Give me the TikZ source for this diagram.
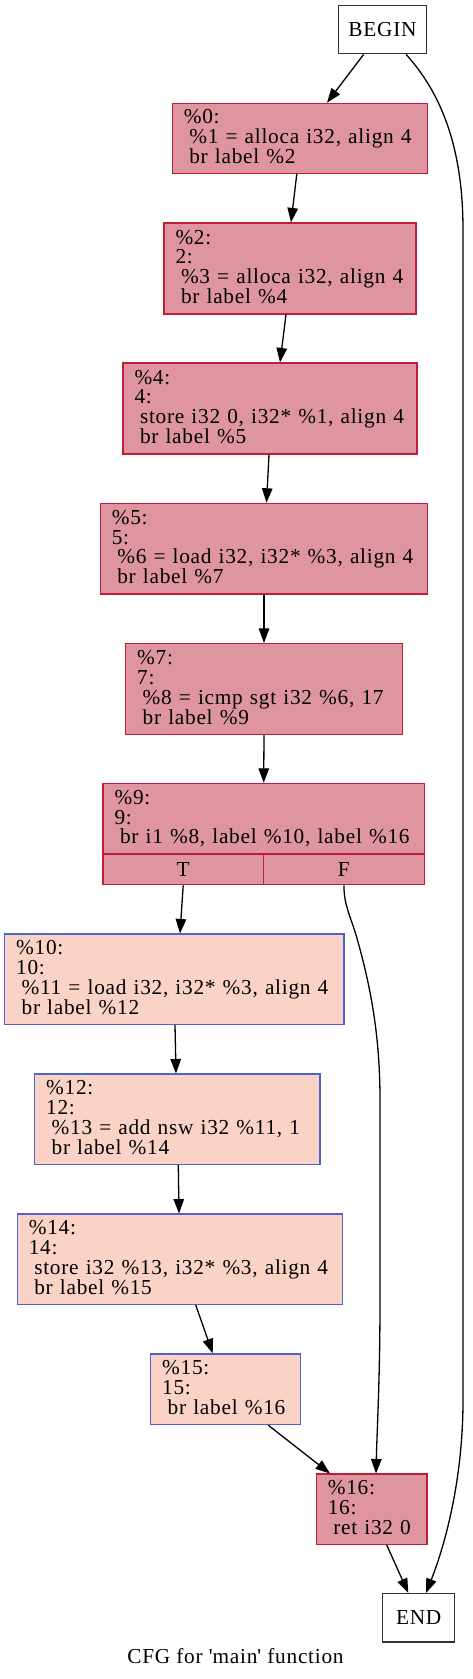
\documentclass[tikz,border=0pt]{standalone}
\usepackage{fontspec}
\setmainfont{Liberation Serif}[LetterSpace=3.5]
\usetikzlibrary{arrows.meta}
\definecolor{redbd}{RGB}{190,30,58}
\definecolor{redfill}{RGB}{223,149,160}
\definecolor{bluebd}{RGB}{80,98,205}
\definecolor{bluefill}{RGB}{250,211,198}
\newcommand\fs{\fontsize{21.3}{19.8}\selectfont}
\newcommand\mystr{\rule[-4.6pt]{0pt}{19.8pt}}
\newcommand\mylA[1]{\mystr#1}
\newcommand\mylB[1]{\mystr\hspace*{5.5pt}#1}
\tikzset{
  blk/.style={rectangle, line width=1.15pt, inner xsep=11.5pt, inner ysep=0pt, align=left, font=\fs},
  redblk/.style={blk, draw=redbd, fill=redfill},
  blueblk/.style={blk, draw=bluebd, fill=bluefill},
  cellblk/.style={rectangle, line width=1.15pt, draw=redbd, fill=redfill, inner sep=0pt, font=\fs},
  termblk/.style={rectangle, draw=black!80, line width=1.2pt, font=\fs, inner sep=0pt},
  arr/.style={-{Triangle[length=14.5pt,width=10.5pt]}, line width=1.3pt, black},
}
\begin{document}
\begin{tikzpicture}[x=1pt,y=-1pt]
\useasboundingbox (0,0) rectangle (472,1679);
\fill[white] (0,0) rectangle (472,1679);

\node[termblk, minimum width=88.4pt, minimum height=48pt] (begin) at (382.5,29.7) {BEGIN};

\node[redblk, minimum width=255pt, minimum height=70pt, text width=232pt] (n0) at (299.8,138.3)
  {\mylA{\%0:}\\\mylB{\%1 = alloca i32, align 4}\\\mylB{br label \%2}};

\node[redblk, minimum width=252pt, minimum height=91pt, text width=229pt] (n2) at (290,268.5)
  {\mylA{\%2:}\\\mylA{2:}\\\mylB{\%3 = alloca i32, align 4}\\\mylB{br label \%4}};

\node[redblk, minimum width=294pt, minimum height=91pt, text width=271pt] (n4) at (270,408.5)
  {\mylA{\%4:}\\\mylA{4:}\\\mylB{store i32 0, i32* \%1, align 4}\\\mylB{br label \%5}};

\node[redblk, minimum width=327.4pt, minimum height=90.7pt, text width=304.4pt] (n5) at (264,548.7)
  {\mylA{\%5:}\\\mylA{5:}\\\mylB{\%6 = load i32, i32* \%3, align 4}\\\mylB{br label \%7}};

\node[redblk, minimum width=276.6pt, minimum height=91pt, text width=253.6pt] (n7) at (264,689)
  {\mylA{\%7:}\\\mylA{7:}\\\mylB{\%8 = icmp sgt i32 \%6, 17}\\\mylB{br label \%9}};

\node[redblk, minimum width=321.3pt, minimum height=70.7pt, text width=298.3pt] (n9) at (263.7,818.7)
  {\mylA{\%9:}\\\mylA{9:}\\\mylB{br i1 \%8, label \%10, label \%16}};
\node[cellblk, minimum width=160.5pt, minimum height=30.7pt] (n9T) at (183.2,869.4) {T};
\node[cellblk, minimum width=160.8pt, minimum height=30.7pt] (n9F) at (343.9,869.4) {F};

\node[blueblk, minimum width=339.3pt, minimum height=90.3pt, text width=316.3pt] (n10) at (174.3,979.2)
  {\mylA{\%10:}\\\mylA{10:}\\\mylB{\%11 = load i32, i32* \%3, align 4}\\\mylB{br label \%12}};

\node[blueblk, minimum width=285.3pt, minimum height=90.3pt, text width=262.3pt] (n12) at (177.3,1119.2)
  {\mylA{\%12:}\\\mylA{12:}\\\mylB{\%13 = add nsw i32 \%11, 1}\\\mylB{br label \%14}};

\node[blueblk, minimum width=325.4pt, minimum height=90.3pt, text width=302.4pt] (n14) at (180,1259.2)
  {\mylA{\%14:}\\\mylA{14:}\\\mylB{store i32 \%13, i32* \%3, align 4}\\\mylB{br label \%15}};

\node[blueblk, minimum width=149.6pt, minimum height=70.7pt, text width=126.6pt] (n15) at (225.5,1389.3)
  {\mylA{\%15:}\\\mylA{15:}\\\mylB{br label \%16}};

\node[redblk, minimum width=110.7pt, minimum height=70.3pt, text width=87.7pt] (n16) at (371.7,1509.2)
  {\mylA{\%16:}\\\mylA{16:}\\\mylB{ret i32 0}};

\node[termblk, minimum width=72pt, minimum height=48.3pt] (end) at (418.7,1617.8) {END};

\node[font=\fs, anchor=base, inner sep=0pt] (cap) at (235.5,1663) {CFG for \textquotesingle main\textquotesingle{} function};

% edges
\draw[arr] ([xshift=-18.8pt]begin.south) -- ([xshift=27.2pt]n0.north);
\draw[arr] ([xshift=23.5pt]begin.south) .. controls (440,92) and (463,145) .. (463,230)
  -- (463,1400) .. controls (463,1480) and (445,1545) .. ([xshift=7.3pt]end.north);
\draw[arr] ([xshift=-3pt]n0.south) -- ([xshift=1pt]n2.north);
\draw[arr] ([xshift=-4pt]n2.south) -- ([xshift=10pt]n4.north);
\draw[arr] ([xshift=-1pt]n4.south) -- ([xshift=2.5pt]n5.north);
\draw[arr] (n5.south) -- (n7.north);
\draw[arr] (n7.south) -- (n9.north);
\draw[arr] (n9T.south) -- ([xshift=5.7pt]n10.north);
\draw[arr] (n9F.south) .. controls (344,905) and (350,915) .. (356,935)
  .. controls (372,990) and (380,1040) .. (380,1100) -- (380,1300)
  .. controls (380,1380) and (377,1430) .. ([xshift=4.3pt]n16.north);
\draw[arr] ([xshift=0.7pt]n10.south) -- ([xshift=-1.3pt]n12.north);
\draw[arr] ([xshift=1pt]n12.south) -- ([xshift=-1pt]n14.north);
\draw[arr] ([xshift=15.7pt]n14.south) -- ([xshift=-12.8pt]n15.north);
\draw[arr] ([xshift=42.8pt]n15.south) -- ([xshift=-41.7pt]n16.north);
\draw[arr] ([xshift=15pt]n16.south) -- ([xshift=-10.4pt]end.north);
\end{tikzpicture}
\end{document}
